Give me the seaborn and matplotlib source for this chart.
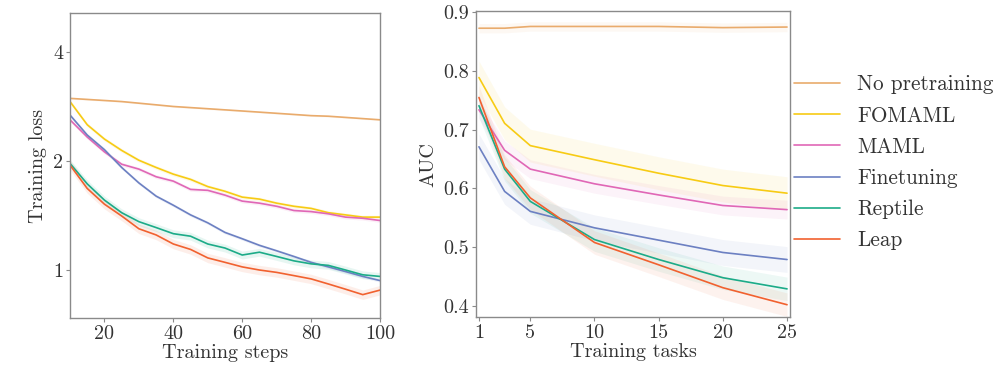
import os
import numpy as np
import pandas as pd
import matplotlib
matplotlib.use("Agg")
import matplotlib.pyplot as plt
from matplotlib import font_manager
import seaborn as sns

# ---------------- data ----------------
methods = ["No pretraining", "FOMAML", "MAML", "Finetuning", "Reptile", "Leap"]
colors = ["#e9ab6c", "#f7cb14", "#e067b6", "#6c80c2", "#1cab88", "#f1612f"]

steps = [10, 15, 20, 25, 30, 35, 40, 45, 50, 55, 60, 65, 70, 75, 80, 85, 90, 95, 100]
loss_nopre = [2.98, 2.96, 2.94, 2.92, 2.89, 2.86, 2.83, 2.81, 2.79, 2.77, 2.75, 2.73, 2.71, 2.69, 2.67, 2.66, 2.64, 2.62, 2.60]
loss_fomaml = [2.92, 2.52, 2.30, 2.14, 2.01, 1.92, 1.84, 1.78, 1.70, 1.65, 1.59, 1.57, 1.53, 1.50, 1.48, 1.44, 1.42, 1.40, 1.40]
loss_maml = [2.60, 2.33, 2.12, 1.96, 1.90, 1.81, 1.76, 1.67, 1.66, 1.61, 1.55, 1.53, 1.50, 1.46, 1.45, 1.43, 1.40, 1.39, 1.37]
loss_finetune = [2.68, 2.36, 2.15, 1.92, 1.74, 1.60, 1.51, 1.42, 1.35, 1.27, 1.22, 1.17, 1.13, 1.09, 1.05, 1.02, 0.99, 0.96, 0.935]
loss_reptile = [1.97, 1.73, 1.56, 1.44, 1.36, 1.31, 1.26, 1.24, 1.18, 1.15, 1.10, 1.12, 1.09, 1.06, 1.04, 1.03, 1.00, 0.97, 0.96]
loss_leap = [1.95, 1.68, 1.52, 1.41, 1.30, 1.25, 1.18, 1.14, 1.08, 1.05, 1.02, 1.00, 0.985, 0.965, 0.945, 0.915, 0.885, 0.855, 0.88]
loss_band_frac = [0.005, 0.012, 0.012, 0.01, 0.025, 0.03]  # relative half-width of shaded bands

tasks = [1, 3, 5, 10, 15, 20, 25]
auc_nopre = [0.873, 0.873, 0.876, 0.876, 0.876, 0.874, 0.875]
auc_fomaml = [0.789, 0.711, 0.673, 0.649, 0.626, 0.605, 0.592]
auc_maml = [0.734, 0.665, 0.633, 0.608, 0.589, 0.571, 0.564]
auc_finetune = [0.671, 0.595, 0.561, 0.533, 0.512, 0.491, 0.479]
auc_reptile = [0.741, 0.633, 0.578, 0.513, 0.479, 0.448, 0.429]
auc_leap = [0.755, 0.637, 0.584, 0.508, 0.470, 0.431, 0.402]
auc_band = [0.008, 0.028, 0.016, 0.022, 0.02, 0.02]

loss_series = [loss_nopre, loss_fomaml, loss_maml, loss_finetune, loss_reptile, loss_leap]
auc_series = [auc_nopre, auc_fomaml, auc_maml, auc_finetune, auc_reptile, auc_leap]

# ---------------- style ----------------
sns.set_theme(style="white")
cm_path = os.path.join(matplotlib.get_data_path(), "fonts", "ttf", "cmr10.ttf")
fam = ["Liberation Serif", "DejaVu Serif"]
if os.path.exists(cm_path):
    font_manager.fontManager.addfont(cm_path)
    fam = [font_manager.FontProperties(fname=cm_path).get_name(), "DejaVu Serif"]
plt.rcParams["font.family"] = fam
plt.rcParams["mathtext.fontset"] = "cm"
plt.rcParams["axes.formatter.use_mathtext"] = True
plt.rcParams["axes.unicode_minus"] = False
text_color = "#333333"
spine_color = "#8a8a8a"

df_loss = pd.concat([pd.DataFrame({"step": steps, "loss": v, "method": m})
                     for m, v in zip(methods, loss_series)], ignore_index=True)
df_auc = pd.concat([pd.DataFrame({"task": tasks, "auc": v, "method": m})
                    for m, v in zip(methods, auc_series)], ignore_index=True)
palette = dict(zip(methods, colors))

fig = plt.figure(figsize=(10, 3.73), dpi=100)
ax1 = fig.add_axes([0.070, 0.1475, 0.310, 0.8177])
ax2 = fig.add_axes([0.476, 0.150, 0.314, 0.820])

# left panel
for m, v, f in zip(methods, loss_series, loss_band_frac):
    v = np.array(v)
    ax1.fill_between(steps, v * (1 - f), v * (1 + f), color=palette[m], alpha=0.10, lw=0)
sns.lineplot(data=df_loss, x="step", y="loss", hue="method", palette=palette,
             hue_order=methods, ax=ax1, lw=1.2, legend=False, errorbar=None)
ax1.set_yscale("log", base=2)
ax1.set_ylim(0.737, 5.13)
ax1.set_xlim(10, 100)
ax1.set_yticks([1, 2, 4])
ax1.set_yticklabels(["1", "2", "4"])
ax1.yaxis.set_minor_locator(matplotlib.ticker.NullLocator())
ax1.set_xticks([20, 40, 60, 80, 100])
ax1.set_xticklabels(["20", "40", "60", "80", "100"])
ax1.set_xlabel("Training steps", fontsize=14.5, color=text_color, labelpad=1)
ax1.set_ylabel("Training loss", fontsize=14.5, color=text_color, labelpad=4)

# right panel
for m, v, b in zip(methods, auc_series, auc_band):
    v = np.array(v)
    ax2.fill_between(tasks, v - b, v + b, color=palette[m], alpha=0.08, lw=0)
sns.lineplot(data=df_auc, x="task", y="auc", hue="method", palette=palette,
             hue_order=methods, ax=ax2, lw=1.2, errorbar=None)
ax2.set_xlim(0.77, 25.23)
ax2.set_ylim(0.381, 0.902)
ax2.set_xticks([1, 5, 10, 15, 20, 25])
ax2.set_xticklabels(["1", "5", "10", "15", "20", "25"])
ax2.set_yticks([0.4, 0.5, 0.6, 0.7, 0.8, 0.9])
ax2.set_yticklabels(["0.4", "0.5", "0.6", "0.7", "0.8", "0.9"])
ax2.set_xlabel("Training tasks", fontsize=14.5, color=text_color, labelpad=1)
ax2.set_ylabel("AUC", fontsize=14.5, color=text_color, labelpad=4)

for ax in (ax1, ax2):
    for s in ax.spines.values():
        s.set_color(spine_color)
        s.set_linewidth(1.0)
    ax.tick_params(axis="both", which="major", labelsize=14.5, colors=spine_color,
                   labelcolor=text_color, length=3, width=0.8, pad=2, direction="out",
                   bottom=True, left=True)

leg = ax2.legend(loc="center left", bbox_to_anchor=(0.987, 0.505), frameon=False,
                 fontsize=15.3, handlelength=2.15, handletextpad=0.8, labelspacing=0.55,
                 borderaxespad=0)
for t in leg.get_texts():
    t.set_color(text_color)
for l in leg.get_lines():
    l.set_linewidth(1.2)

fig.savefig("out.png", dpi=100)
